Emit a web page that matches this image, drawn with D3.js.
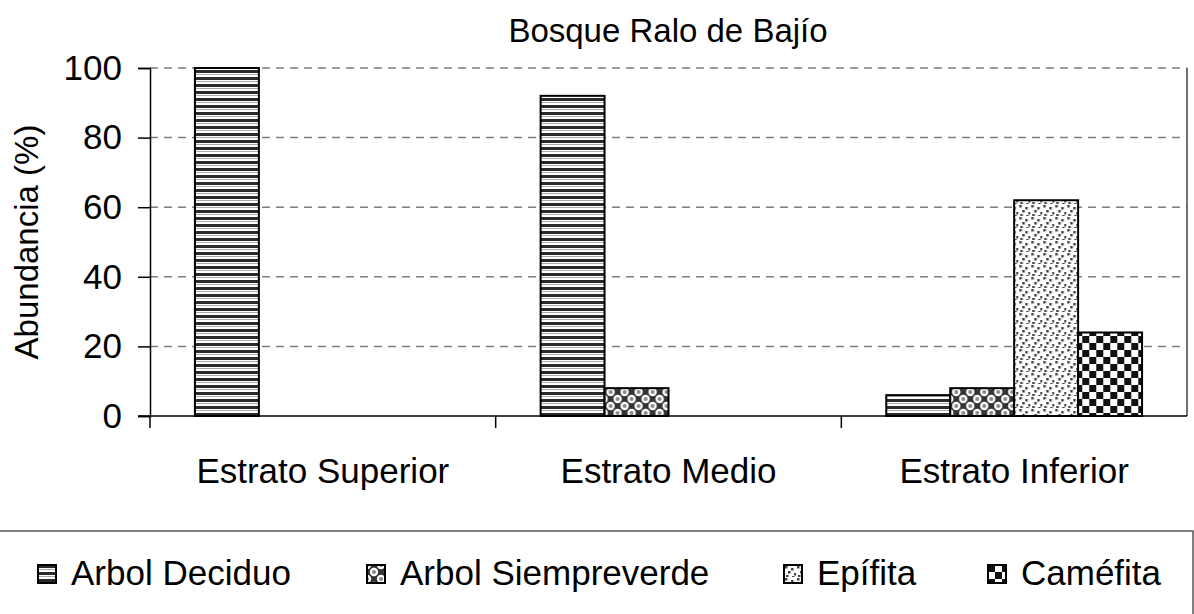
<!DOCTYPE html>
<html>
<head>
<meta charset="utf-8">
<script src="https://cdn.jsdelivr.net/npm/d3@7"></script>
<style>
  body { margin: 0; background: #fff; }
  svg { display: block; font-family: "Liberation Sans", Arial, sans-serif; }
</style>
</head>
<body>
<svg id="chart" width="1194" height="614"></svg>
<script>
// datos
const categories = ["Estrato Superior", "Estrato Medio", "Estrato Inferior"];
const seriesNames = ["Arbol Deciduo", "Arbol Siempreverde", "Epífita", "Caméfita"];
const deciduo = [100, 92, 6];
const siempreverde = [0, 8, 8];
const epifita = [0, 0, 62];
const camefita = [0, 0, 24];
const yTicks = [0, 20, 40, 60, 80, 100];

const seriesValues = [deciduo, siempreverde, epifita, camefita];
const patternIds = ["pDec", "pSie", "pEpi", "pCam"];

const svg = d3.select("#chart");
const plotL = 150, plotR = 1187, plotT = 68, plotB = 416;
const fs = 35;

// patrones
const defs = svg.append("defs");

const p1 = defs.append("pattern").attr("id", "pDec").attr("patternUnits", "userSpaceOnUse")
  .attr("width", 8).attr("height", 7);
p1.append("rect").attr("width", 8).attr("height", 7).attr("fill", "#fff");
p1.append("rect").attr("y", 0).attr("width", 8).attr("height", 3).attr("fill", "#2a2a2a");
p1.append("rect").attr("y", 4).attr("width", 8).attr("height", 1).attr("fill", "#aaa");

const p2 = defs.append("pattern").attr("id", "pSie").attr("patternUnits", "userSpaceOnUse")
  .attr("width", 14).attr("height", 14);
p2.append("rect").attr("width", 14).attr("height", 14).attr("fill", "#333");
[[0, 0], [14, 0], [0, 14], [14, 14], [7, 7]].forEach(([cx, cy]) => {
  p2.append("circle").attr("cx", cx).attr("cy", cy).attr("r", 4.2).attr("fill", "#fff");
  p2.append("circle").attr("cx", cx).attr("cy", cy).attr("r", 2).attr("fill", "#888");
});

const p3 = defs.append("pattern").attr("id", "pEpi").attr("patternUnits", "userSpaceOnUse")
  .attr("width", 12).attr("height", 12);
p3.append("rect").attr("width", 12).attr("height", 12).attr("fill", "#fff");
[[1, 1], [7, 3], [4, 6], [10, 8], [2, 10], [8, 11]].forEach(([x, y]) => {
  p3.append("rect").attr("x", x).attr("y", y).attr("width", 2.5).attr("height", 2.5).attr("fill", "#444");
});

const p4 = defs.append("pattern").attr("id", "pCam").attr("patternUnits", "userSpaceOnUse")
  .attr("width", 14).attr("height", 14);
p4.append("rect").attr("width", 14).attr("height", 14).attr("fill", "#fff");
p4.append("rect").attr("width", 7).attr("height", 7).attr("fill", "#111");
p4.append("rect").attr("x", 7).attr("y", 7).attr("width", 7).attr("height", 7).attr("fill", "#111");

// escalas
const x0 = d3.scaleBand().domain(categories).range([plotL, plotR]).paddingInner(0.26).paddingOuter(0.13);
const x1 = d3.scaleBand().domain(seriesNames).range([0, x0.bandwidth()]);
const y = d3.scaleLinear().domain([0, 100]).range([plotB, plotT]);

// cuadrícula
svg.append("g").selectAll("line").data(yTicks.filter(d => d > 0)).join("line")
  .attr("x1", plotL).attr("x2", plotR)
  .attr("y1", d => y(d)).attr("y2", d => y(d))
  .attr("stroke", "#7f7f7f").attr("stroke-width", 1.5).attr("stroke-dasharray", "8,6");

// borde derecho
svg.append("line").attr("x1", plotR).attr("x2", plotR).attr("y1", plotT).attr("y2", plotB)
  .attr("stroke", "#444").attr("stroke-width", 1.5);

// barras
const groups = svg.append("g").selectAll("g").data(categories).join("g")
  .attr("transform", c => `translate(${x0(c)},0)`);
groups.selectAll("rect")
  .data((c, ci) => seriesNames.map((s, si) => ({ s, si, v: seriesValues[si][ci] })).filter(d => d.v > 0))
  .join("rect")
  .attr("x", d => x1(d.s))
  .attr("y", d => y(d.v))
  .attr("width", x1.bandwidth())
  .attr("height", d => y(0) - y(d.v))
  .attr("fill", d => `url(#${patternIds[d.si]})`)
  .attr("stroke", "#000").attr("stroke-width", 2);

// eje Y
const yAxis = svg.append("g").attr("transform", `translate(${plotL},0)`)
  .call(d3.axisLeft(y).tickValues(yTicks).tickSize(12).tickPadding(16));
yAxis.select(".domain").attr("stroke", "#000").attr("stroke-width", 1.5);
yAxis.selectAll(".tick line").attr("stroke", "#000").attr("stroke-width", 1.5);
yAxis.selectAll("text").attr("font-size", fs).attr("fill", "#000")
  .attr("font-family", "Liberation Sans, Arial, sans-serif");

// eje X
const xAxis = svg.append("g").attr("transform", `translate(0,${plotB})`);
xAxis.append("line").attr("x1", plotL - 12).attr("x2", plotR).attr("stroke", "#000").attr("stroke-width", 1.5);
const bounds = [plotL].concat(categories.map(c => x0(c) + x0.bandwidth() + x0.step() * x0.paddingInner() / 2));
xAxis.selectAll(".tk").data(bounds.slice(0, 3)).join("line").attr("class", "tk")
  .attr("x1", d => d).attr("x2", d => d).attr("y1", 0).attr("y2", 12)
  .attr("stroke", "#000").attr("stroke-width", 1.5);
xAxis.selectAll("text").data(categories).join("text")
  .attr("x", c => x0(c) + x0.bandwidth() / 2).attr("y", 67)
  .attr("text-anchor", "middle").attr("font-size", fs).text(c => c);

// títulos
svg.append("text").attr("x", 668).attr("y", 42).attr("text-anchor", "middle")
  .attr("font-size", 33).text("Bosque Ralo de Bajío");
svg.append("text").attr("transform", `translate(38,${(plotT + plotB) / 2}) rotate(-90)`)
  .attr("text-anchor", "middle").attr("font-size", 33).text("Abundancia (%)");

// leyenda
svg.append("rect").attr("x", -2).attr("y", 531).attr("width", 1195).attr("height", 100)
  .attr("fill", "none").attr("stroke", "#555").attr("stroke-width", 1.5);
const legendX = [38, 367, 784, 988];
const leg = svg.append("g").selectAll("g").data(seriesNames).join("g")
  .attr("transform", (d, i) => `translate(${legendX[i]},565)`);
leg.append("rect").attr("width", 18).attr("height", 18)
  .attr("fill", (d, i) => `url(#${patternIds[i]})`).attr("stroke", "#000").attr("stroke-width", 2);
leg.append("text").attr("x", 33).attr("y", 20).attr("font-size", fs).text(d => d);
</script>
</body>
</html>
